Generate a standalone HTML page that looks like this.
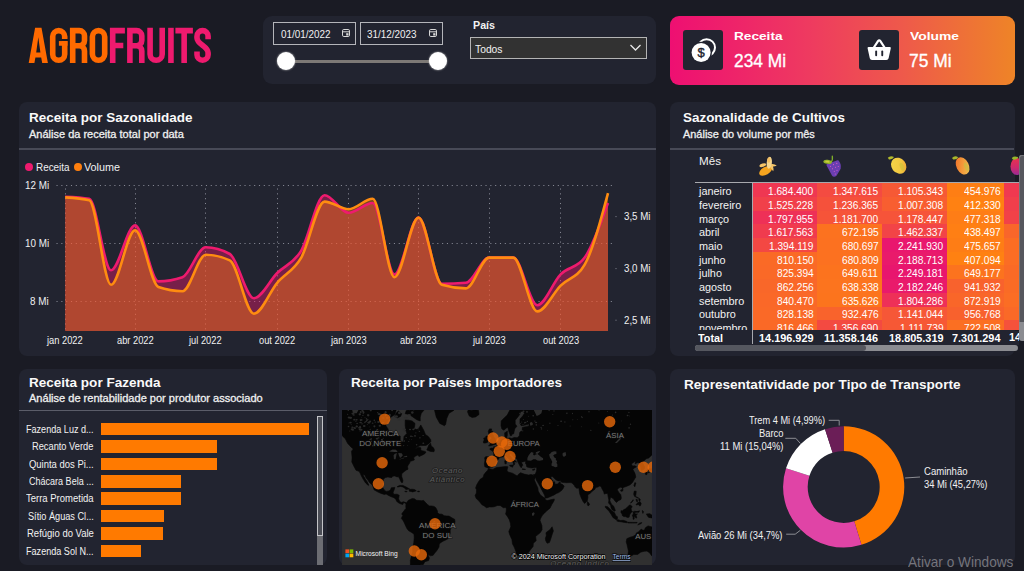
<!DOCTYPE html>
<html><head><meta charset="utf-8"><title>AgroFruits</title>
<style>
html,body{margin:0;padding:0}
body{width:1024px;height:571px;overflow:hidden;background:#1a1b24;position:relative;font-family:"Liberation Sans",sans-serif}
.b{position:absolute;display:block;box-sizing:content-box}
.t{position:absolute;white-space:nowrap;transform-origin:0 0;font-family:"Liberation Sans",sans-serif}
</style></head><body>
<div class="b" style="left:263px;top:16px;width:393px;height:68px;background:#222430;border-radius:9px;"></div>
<div class="b" style="left:18.8px;top:102px;width:637.3px;height:254px;background:#222430;border-radius:8px;"></div>
<div class="b" style="left:669.6px;top:102px;width:345px;height:254px;background:#222430;border-radius:8px;"></div>
<div class="b" style="left:18.7px;top:369px;width:308.5px;height:195.7px;background:#222430;border-radius:8px;"></div>
<div class="b" style="left:338.5px;top:369px;width:317.5px;height:195.7px;background:#222430;border-radius:8px;"></div>
<div class="b" style="left:669.6px;top:369px;width:345px;height:195.7px;background:#222430;border-radius:8px;"></div>
<div class="b" style="left:669.6px;top:16px;width:345px;height:68.5px;background:linear-gradient(90deg,#ee0f72 0%,#ee3a60 40%,#ee5a4a 68%,#ee8427 100%);border-radius:9px;"></div>
<svg class="b" style="left:0;top:0" width="230" height="80" viewBox="0 0 230 80"><g transform="translate(28.7,27.8)"><path d="M0,35.2L6.3999999999999995,0H12.8L19.2,35.2H13.488L12.488,29.6H6.712L5.712,35.2ZM7.5,24.6L9.6,9.5L11.7,24.6Z" fill="#ff6a00" fill-rule="evenodd"/></g><g transform="translate(49.9,27.8)"><path d="M14.8,11.2V8.8A6.0,6.0 0 0 0 2.8,8.8V26.400000000000006A6.0,6.0 0 0 0 14.8,26.400000000000006V13.3" fill="none" stroke="#ff6a00" stroke-width="5.6"/><path d="M9.0,15.6H17.6" fill="none" stroke="#ff6a00" stroke-width="4.7"/></g><g transform="translate(69.9,27.8)"><path d="M2.8,0V35.2M2.8,2.8H9.399999999999991A5.2,5.2 0 0 1 14.59999999999999,8.0V12.7A5.2,5.2 0 0 1 9.399999999999991,17.9H2.8M7.8999999999999915,17.9H9.399999999999991A5.2,5.2 0 0 1 14.59999999999999,23.099999999999998V35.2" fill="none" stroke="#ff6a00" stroke-width="5.6"/></g><g transform="translate(89.6,27.8)"><path d="M2.8,8.950000000000003A6.150000000000002,6.150000000000002 0 0 1 15.100000000000005,8.950000000000003V26.250000000000004A6.150000000000002,6.150000000000002 0 0 1 2.8,26.250000000000004Z" fill="none" stroke="#ff6a00" stroke-width="5.6"/></g><g transform="translate(109.9,27.8)"><path d="M2.8,0V35.2M2.8,2.8H15.0M2.8,17.7H13.4" fill="none" stroke="#ee1a6e" stroke-width="5.6"/></g><g transform="translate(127.1,27.8)"><path d="M2.8,0V35.2M2.8,2.8H9.5A5.2,5.2 0 0 1 14.7,8.0V12.7A5.2,5.2 0 0 1 9.5,17.9H2.8M8.0,17.9H9.5A5.2,5.2 0 0 1 14.7,23.099999999999998V35.2" fill="none" stroke="#ee1a6e" stroke-width="5.6"/></g><g transform="translate(147.3,27.8)"><path d="M2.8,0V26.350000000000012A6.049999999999994,6.049999999999994 0 0 0 14.899999999999988,26.350000000000012V0" fill="none" stroke="#ee1a6e" stroke-width="5.6"/></g><g transform="translate(168.2,27.8)"><path d="M2.75,0V35.2" fill="none" stroke="#ee1a6e" stroke-width="5.6"/></g><g transform="translate(175.4,27.8)"><path d="M0,2.8H17.5M8.75,0V35.2" fill="none" stroke="#ee1a6e" stroke-width="5.6"/></g><g transform="translate(194.2,27.8)"><path d="M13.900000000000016,11.4V8.350000000000009A5.550000000000008,5.550000000000008 0 0 0 2.8,8.350000000000009V10.2C2.8,16.5 13.900000000000016,18.5 13.900000000000016,25V26.849999999999998A5.550000000000008,5.550000000000008 0 0 1 2.8,26.849999999999998V23.6" fill="none" stroke="#ee1a6e" stroke-width="5.6"/></g></svg>
<div class="b" style="left:273.2px;top:22px;width:80.60000000000001px;height:20.6px;background:transparent;border:1px solid #b4b5ba;"></div>
<span class="t" style="left:280.50px;top:29.00px;font-size:10px;font-weight:400;color:#f0f0f0;line-height:11.490px;transform:scaleX(0.9888);">01/01/2022</span>
<svg class="b" style="left:341.0px;top:27.5px" width="11" height="11" viewBox="0 0 11 11"><rect x="1.5" y="1.5" width="7" height="7" rx="1.3" fill="none" stroke="#d8d8d8" stroke-width="1"/><line x1="1.5" y1="3.8" x2="8.5" y2="3.8" stroke="#d8d8d8" stroke-width="1"/><rect x="5.2" y="5.2" width="2.3" height="2.3" fill="#d8d8d8"/></svg>
<div class="b" style="left:359.7px;top:22px;width:80.99999999999999px;height:20.6px;background:transparent;border:1px solid #b4b5ba;"></div>
<span class="t" style="left:367.00px;top:29.00px;font-size:10px;font-weight:400;color:#f0f0f0;line-height:11.490px;transform:scaleX(0.9888);">31/12/2023</span>
<svg class="b" style="left:427.5px;top:27.5px" width="11" height="11" viewBox="0 0 11 11"><rect x="1.5" y="1.5" width="7" height="7" rx="1.3" fill="none" stroke="#d8d8d8" stroke-width="1"/><line x1="1.5" y1="3.8" x2="8.5" y2="3.8" stroke="#d8d8d8" stroke-width="1"/><rect x="5.2" y="5.2" width="2.3" height="2.3" fill="#d8d8d8"/></svg>
<div class="b" style="left:286px;top:59.7px;width:152px;height:3px;background:#7d7976;border-radius:1px;"></div>
<div class="b" style="left:276.9px;top:51.7px;width:18.6px;height:18.6px;background:#fff;border-radius:50%;box-shadow:0 0 1.5px 0.5px rgba(200,200,200,.55);"></div>
<div class="b" style="left:428.59999999999997px;top:51.7px;width:18.6px;height:18.6px;background:#fff;border-radius:50%;box-shadow:0 0 1.5px 0.5px rgba(200,200,200,.55);"></div>
<span class="t" style="left:472.50px;top:19.00px;font-size:11.5px;font-weight:700;color:#f2f2f2;line-height:13.213px;transform:scaleX(0.9299);">País</span>
<div class="b" style="left:470px;top:37px;width:174.6px;height:19.8px;background:#323232;border:1px solid #b4b4b4;"></div>
<span class="t" style="left:474.80px;top:43.00px;font-size:10.5px;font-weight:400;color:#f2f2f2;line-height:12.065px;transform:scaleX(0.9815);">Todos</span>
<svg class="b" style="left:628px;top:42px" width="16" height="12"><polyline points="2.5,3 7.5,8 12.5,3" fill="none" stroke="#e8e8e8" stroke-width="1.3"/></svg>
<div class="b" style="left:683px;top:30px;width:40.3px;height:40.3px;background:#222430;border-radius:3px;"></div>
<div class="b" style="left:858.7px;top:30px;width:40.3px;height:40.3px;background:#222430;border-radius:3px;"></div>
<span class="t" style="left:734.00px;top:30.00px;font-size:11.5px;font-weight:700;color:#fff;line-height:13.213px;transform:scaleX(1.1854);">Receita</span>
<span class="t" style="left:733.50px;top:50.00px;font-size:18.5px;font-weight:400;color:#fff;line-height:21.256px;transform:scaleX(0.9365);-webkit-text-stroke:.35px #fff;">234 Mi</span>
<span class="t" style="left:909.50px;top:30.00px;font-size:11.5px;font-weight:700;color:#fff;line-height:13.213px;transform:scaleX(1.2044);">Volume</span>
<span class="t" style="left:909.00px;top:50.00px;font-size:18.5px;font-weight:400;color:#fff;line-height:21.256px;transform:scaleX(0.9395);-webkit-text-stroke:.35px #fff;">75 Mi</span>
<svg class="b" style="left:683px;top:30px" width="41" height="41" viewBox="0 0 41 41">
<circle cx="23.6" cy="17.6" r="8.4" fill="none" stroke="#fff" stroke-width="2"/>
<circle cx="18.1" cy="22.5" r="10.8" fill="#222430"/>
<circle cx="18.1" cy="22.5" r="9.5" fill="#fff"/>
<text x="18.2" y="27" text-anchor="middle" font-family="Liberation Sans, sans-serif" font-weight="400" font-size="13" fill="#222430" stroke="#222430" stroke-width=".4">$</text>
</svg>
<svg class="b" style="left:858.7px;top:30px" width="41" height="41" viewBox="0 0 41 41">
<path d="M14.2 18.5 L19 11.2 Q20.2 9.6 21.4 11.2 L26.2 18.5" fill="none" stroke="#fff" stroke-width="2.2" stroke-linecap="round" stroke-linejoin="round"/>
<path d="M9.6 17 H30.8 Q32 17 31.8 18.3 L29.6 28.2 Q29.2 30 27.4 30 H13 Q11.2 30 10.8 28.2 L8.6 18.3 Q8.4 17 9.6 17 Z" fill="#fff"/>
<rect x="16.2" y="20.6" width="1.9" height="5.6" rx=".9" fill="#222430"/>
<rect x="22.3" y="20.6" width="1.9" height="5.6" rx=".9" fill="#222430"/>
</svg>
<span class="t" style="left:28.50px;top:111.00px;font-size:13px;font-weight:700;color:#fafafa;line-height:14.937px;transform:scaleX(1.0381);">Receita por Sazonalidade</span>
<span class="t" style="left:28.50px;top:129.00px;font-size:10.2px;font-weight:400;color:#f0f0f0;line-height:11.720px;transform:scaleX(1.0804);-webkit-text-stroke:.28px #f0f0f0;">Análise da receita total por data</span>
<div class="b" style="left:19px;top:148px;width:637px;height:2px;background:#484a57;"></div>
<span class="t" style="left:683.30px;top:111.00px;font-size:13px;font-weight:700;color:#fafafa;line-height:14.937px;transform:scaleX(1.0334);">Sazonalidade de Cultivos</span>
<span class="t" style="left:683.30px;top:129.00px;font-size:10.2px;font-weight:400;color:#f0f0f0;line-height:11.720px;transform:scaleX(1.0729);-webkit-text-stroke:.28px #f0f0f0;">Análise do volume por mês</span>
<div class="b" style="left:669.7px;top:148px;width:344.8px;height:2px;background:#484a57;"></div>
<span class="t" style="left:28.50px;top:376.00px;font-size:13px;font-weight:700;color:#fafafa;line-height:14.937px;transform:scaleX(1.0401);">Receita por Fazenda</span>
<span class="t" style="left:28.50px;top:393.00px;font-size:10.2px;font-weight:400;color:#f0f0f0;line-height:11.720px;transform:scaleX(1.0830);-webkit-text-stroke:.28px #f0f0f0;">Análise de rentabilidade por produtor associado</span>
<div class="b" style="left:19px;top:410.2px;width:308px;height:1px;background:#5b5d69;"></div>
<span class="t" style="left:350.70px;top:376.00px;font-size:13px;font-weight:700;color:#fafafa;line-height:14.937px;transform:scaleX(1.0430);">Receita por Países Importadores</span>
<span class="t" style="left:684.00px;top:378.00px;font-size:13px;font-weight:700;color:#fafafa;line-height:14.937px;transform:scaleX(1.0438);">Representatividade por Tipo de Transporte</span>
<svg class="b" style="left:0;top:150px" width="660" height="206" viewBox="0 150 660 206"><line x1="56.5" y1="185.5" x2="615" y2="185.5" stroke="#858793" stroke-width="1" stroke-dasharray="1.1 3.72"/><line x1="56.5" y1="243.5" x2="615" y2="243.5" stroke="#858793" stroke-width="1" stroke-dasharray="1.1 3.72"/><line x1="56.5" y1="301.5" x2="615" y2="301.5" stroke="#858793" stroke-width="1" stroke-dasharray="1.1 3.72"/><line x1="65.5" y1="188.5" x2="65.5" y2="331" stroke="#858793" stroke-width="1" stroke-dasharray="1.1 3.72"/><line x1="135.5" y1="188.5" x2="135.5" y2="331" stroke="#858793" stroke-width="1" stroke-dasharray="1.1 3.72"/><line x1="205.5" y1="188.5" x2="205.5" y2="331" stroke="#858793" stroke-width="1" stroke-dasharray="1.1 3.72"/><line x1="277.5" y1="188.5" x2="277.5" y2="331" stroke="#858793" stroke-width="1" stroke-dasharray="1.1 3.72"/><line x1="348.5" y1="188.5" x2="348.5" y2="331" stroke="#858793" stroke-width="1" stroke-dasharray="1.1 3.72"/><line x1="418.5" y1="188.5" x2="418.5" y2="331" stroke="#858793" stroke-width="1" stroke-dasharray="1.1 3.72"/><line x1="489.5" y1="188.5" x2="489.5" y2="331" stroke="#858793" stroke-width="1" stroke-dasharray="1.1 3.72"/><line x1="560.5" y1="188.5" x2="560.5" y2="331" stroke="#858793" stroke-width="1" stroke-dasharray="1.1 3.72"/><rect x="615.5" y="216.1" width="1" height="1" fill="#858793"/><rect x="615.5" y="268.1" width="1" height="1" fill="#858793"/><rect x="615.5" y="319.7" width="1" height="1" fill="#858793"/><path d="M65.20,196.80C73.22,197.13,81.25,197.47,89.27,198.80C96.52,200.00,103.77,270.20,111.02,270.20C119.04,270.20,127.06,225.40,135.09,225.40C142.85,225.40,150.62,281.40,158.38,281.40C166.41,281.40,174.43,280.00,182.46,277.20C190.22,274.49,197.99,247.30,205.75,247.30C213.78,247.30,221.80,249.53,229.83,254.00C237.85,258.47,245.87,298.20,253.90,298.20C261.66,298.20,269.43,280.82,277.19,273.00C285.22,264.92,293.24,263.97,301.27,250.60C309.03,237.66,316.80,195.20,324.56,195.20C332.59,195.20,340.61,212.80,348.64,212.80C356.66,212.80,364.68,203.00,372.71,203.00C379.96,203.00,387.20,274.40,394.45,274.40C402.48,274.40,410.50,217.60,418.52,217.60C426.29,217.60,434.06,283.70,441.82,283.70C449.85,283.70,457.87,283.40,465.89,282.80C473.66,282.22,481.42,257.60,489.19,257.60C497.21,257.60,505.24,257.60,513.26,257.60C521.29,257.60,529.31,305.20,537.34,305.20C545.10,305.20,552.87,282.28,560.63,274.40C568.66,266.25,576.68,268.80,584.70,257.60C592.47,246.76,600.23,224.88,608.00,203.00L608.0,331L65.2,331Z" fill="#ee1a6e" fill-opacity=".42"/><path d="M65.20,197.40C73.22,197.87,81.25,198.33,89.27,200.20C96.52,201.89,103.77,284.80,111.02,284.80C119.04,284.80,127.06,230.20,135.09,230.20C142.85,230.20,150.62,284.29,158.38,287.00C166.41,289.80,174.43,291.20,182.46,291.20C190.22,291.20,197.99,254.80,205.75,254.80C213.78,254.80,221.80,256.67,229.83,260.40C237.85,264.13,245.87,313.70,253.90,313.70C261.66,313.70,269.43,292.03,277.19,282.80C285.22,273.26,293.24,271.53,301.27,257.60C309.03,244.12,316.80,201.60,324.56,201.60C332.59,201.60,340.61,209.20,348.64,209.20C356.66,209.20,364.68,198.80,372.71,198.80C379.96,198.80,387.20,277.20,394.45,277.20C402.48,277.20,410.50,217.60,418.52,217.60C426.29,217.60,434.06,282.48,441.82,284.80C449.85,287.20,457.87,288.40,465.89,288.40C473.66,288.40,481.42,257.60,489.19,257.60C497.21,257.60,505.24,257.60,513.26,257.60C521.29,257.60,529.31,311.40,537.34,311.40C545.10,311.40,552.87,293.30,560.63,285.60C568.66,277.64,576.68,278.60,584.70,264.60C592.47,251.05,600.23,222.13,608.00,193.20L608.0,331L65.2,331Z" fill="#ff7f0e" fill-opacity=".42"/><path d="M65.20,196.80C73.22,197.13,81.25,197.47,89.27,198.80C96.52,200.00,103.77,270.20,111.02,270.20C119.04,270.20,127.06,225.40,135.09,225.40C142.85,225.40,150.62,281.40,158.38,281.40C166.41,281.40,174.43,280.00,182.46,277.20C190.22,274.49,197.99,247.30,205.75,247.30C213.78,247.30,221.80,249.53,229.83,254.00C237.85,258.47,245.87,298.20,253.90,298.20C261.66,298.20,269.43,280.82,277.19,273.00C285.22,264.92,293.24,263.97,301.27,250.60C309.03,237.66,316.80,195.20,324.56,195.20C332.59,195.20,340.61,212.80,348.64,212.80C356.66,212.80,364.68,203.00,372.71,203.00C379.96,203.00,387.20,274.40,394.45,274.40C402.48,274.40,410.50,217.60,418.52,217.60C426.29,217.60,434.06,283.70,441.82,283.70C449.85,283.70,457.87,283.40,465.89,282.80C473.66,282.22,481.42,257.60,489.19,257.60C497.21,257.60,505.24,257.60,513.26,257.60C521.29,257.60,529.31,305.20,537.34,305.20C545.10,305.20,552.87,282.28,560.63,274.40C568.66,266.25,576.68,268.80,584.70,257.60C592.47,246.76,600.23,224.88,608.00,203.00" fill="none" stroke="#ee1a6e" stroke-width="2.6" stroke-linejoin="round"/><path d="M65.20,197.40C73.22,197.87,81.25,198.33,89.27,200.20C96.52,201.89,103.77,284.80,111.02,284.80C119.04,284.80,127.06,230.20,135.09,230.20C142.85,230.20,150.62,284.29,158.38,287.00C166.41,289.80,174.43,291.20,182.46,291.20C190.22,291.20,197.99,254.80,205.75,254.80C213.78,254.80,221.80,256.67,229.83,260.40C237.85,264.13,245.87,313.70,253.90,313.70C261.66,313.70,269.43,292.03,277.19,282.80C285.22,273.26,293.24,271.53,301.27,257.60C309.03,244.12,316.80,201.60,324.56,201.60C332.59,201.60,340.61,209.20,348.64,209.20C356.66,209.20,364.68,198.80,372.71,198.80C379.96,198.80,387.20,277.20,394.45,277.20C402.48,277.20,410.50,217.60,418.52,217.60C426.29,217.60,434.06,282.48,441.82,284.80C449.85,287.20,457.87,288.40,465.89,288.40C473.66,288.40,481.42,257.60,489.19,257.60C497.21,257.60,505.24,257.60,513.26,257.60C521.29,257.60,529.31,311.40,537.34,311.40C545.10,311.40,552.87,293.30,560.63,285.60C568.66,277.64,576.68,278.60,584.70,264.60C592.47,251.05,600.23,222.13,608.00,193.20" fill="none" stroke="#ff8c10" stroke-width="2.6" stroke-linejoin="round"/></svg>
<div class="b" style="left:25.2px;top:162.8px;width:7.8px;height:7.8px;background:#ee1a6e;border-radius:50%;"></div>
<span class="t" style="left:35.60px;top:161.00px;font-size:11px;font-weight:400;color:#f0f0f0;line-height:12.639px;transform:scaleX(0.8982);">Receita</span>
<div class="b" style="left:73.9px;top:162.8px;width:7.8px;height:7.8px;background:#ff7f0e;border-radius:50%;"></div>
<span class="t" style="left:84.00px;top:161.00px;font-size:11px;font-weight:400;color:#f0f0f0;line-height:12.639px;transform:scaleX(0.9812);">Volume</span>
<span class="t" style="left:24.71px;top:180.00px;font-size:10px;font-weight:400;color:#f0f0f0;line-height:11.490px;transform:scaleX(0.9850);">12 Mi</span>
<span class="t" style="left:24.71px;top:238.00px;font-size:10px;font-weight:400;color:#f0f0f0;line-height:11.490px;transform:scaleX(0.9850);">10 Mi</span>
<span class="t" style="left:30.19px;top:296.00px;font-size:10px;font-weight:400;color:#f0f0f0;line-height:11.490px;transform:scaleX(0.9850);">8 Mi</span>
<span class="t" style="left:624.30px;top:211.00px;font-size:10px;font-weight:400;color:#f0f0f0;line-height:11.490px;transform:scaleX(0.9730);">3,5 Mi</span>
<span class="t" style="left:624.30px;top:263.00px;font-size:10px;font-weight:400;color:#f0f0f0;line-height:11.490px;transform:scaleX(0.9730);">3,0 Mi</span>
<span class="t" style="left:624.30px;top:315.00px;font-size:10px;font-weight:400;color:#f0f0f0;line-height:11.490px;transform:scaleX(0.9730);">2,5 Mi</span>
<span class="t" style="left:47.35px;top:335.00px;font-size:10px;font-weight:400;color:#f0f0f0;line-height:11.490px;transform:scaleX(0.9300);">jan 2022</span>
<span class="t" style="left:116.73px;top:335.00px;font-size:10px;font-weight:400;color:#f0f0f0;line-height:11.490px;transform:scaleX(0.9300);">abr 2022</span>
<span class="t" style="left:189.46px;top:335.00px;font-size:10px;font-weight:400;color:#f0f0f0;line-height:11.490px;transform:scaleX(0.9300);">jul 2022</span>
<span class="t" style="left:259.09px;top:335.00px;font-size:10px;font-weight:400;color:#f0f0f0;line-height:11.490px;transform:scaleX(0.9300);">out 2022</span>
<span class="t" style="left:330.79px;top:335.00px;font-size:10px;font-weight:400;color:#f0f0f0;line-height:11.490px;transform:scaleX(0.9300);">jan 2023</span>
<span class="t" style="left:400.16px;top:335.00px;font-size:10px;font-weight:400;color:#f0f0f0;line-height:11.490px;transform:scaleX(0.9300);">abr 2023</span>
<span class="t" style="left:472.90px;top:335.00px;font-size:10px;font-weight:400;color:#f0f0f0;line-height:11.490px;transform:scaleX(0.9300);">jul 2023</span>
<span class="t" style="left:542.53px;top:335.00px;font-size:10px;font-weight:400;color:#f0f0f0;line-height:11.490px;transform:scaleX(0.9300);">out 2023</span>
<div class="b" style="left:690px;top:150px;width:328.6px;height:180.4px;overflow:hidden"><div class="b" style="left:62.00px;top:33.20px;width:65.60px;height:14.01px;background:#ef3752"></div><span class="t" style="left:78.48px;top:35.00px;font-size:11px;font-weight:400;color:#fff;line-height:12.639px;transform:scaleX(0.9220);">1.684.400</span><div class="b" style="left:127.30px;top:33.20px;width:65.00px;height:14.01px;background:#f44b41"></div><span class="t" style="left:143.18px;top:35.00px;font-size:11px;font-weight:400;color:#fff;line-height:12.639px;transform:scaleX(0.9220);">1.347.615</span><div class="b" style="left:192.00px;top:33.20px;width:65.30px;height:14.01px;background:#f65935"></div><span class="t" style="left:208.18px;top:35.00px;font-size:11px;font-weight:400;color:#fff;line-height:12.639px;transform:scaleX(0.9220);">1.105.343</span><div class="b" style="left:257.00px;top:33.20px;width:57.60px;height:14.01px;background:#fe7e14"></div><span class="t" style="left:273.94px;top:35.00px;font-size:11px;font-weight:400;color:#fff;line-height:12.639px;transform:scaleX(0.9220);">454.976</span><div class="b" style="left:314.30px;top:33.20px;width:15px;height:14.01px;background:#f03950"></div><span class="t" style="left:8.60px;top:35.00px;font-size:11.3px;font-weight:400;color:#f2f2f2;line-height:12.984px;transform:scaleX(0.9600);">janeiro</span><div class="b" style="left:62.00px;top:46.91px;width:65.60px;height:14.01px;background:#f1404a"></div><span class="t" style="left:78.48px;top:49.00px;font-size:11px;font-weight:400;color:#fff;line-height:12.639px;transform:scaleX(0.9220);">1.525.228</span><div class="b" style="left:127.30px;top:46.91px;width:65.00px;height:14.01px;background:#f5513b"></div><span class="t" style="left:143.18px;top:49.00px;font-size:11px;font-weight:400;color:#fff;line-height:12.639px;transform:scaleX(0.9220);">1.236.365</span><div class="b" style="left:192.00px;top:46.91px;width:65.30px;height:14.01px;background:#f85e30"></div><span class="t" style="left:208.18px;top:49.00px;font-size:11px;font-weight:400;color:#fff;line-height:12.639px;transform:scaleX(0.9220);">1.007.308</span><div class="b" style="left:257.00px;top:46.91px;width:57.60px;height:14.01px;background:#ff8112"></div><span class="t" style="left:273.94px;top:49.00px;font-size:11px;font-weight:400;color:#fff;line-height:12.639px;transform:scaleX(0.9220);">412.330</span><div class="b" style="left:314.30px;top:46.91px;width:15px;height:14.01px;background:#f13f4b"></div><span class="t" style="left:8.60px;top:49.00px;font-size:11.3px;font-weight:400;color:#f2f2f2;line-height:12.984px;transform:scaleX(0.9600);">fevereiro</span><div class="b" style="left:62.00px;top:60.62px;width:65.60px;height:14.01px;background:#ee3057"></div><span class="t" style="left:78.48px;top:63.00px;font-size:11px;font-weight:400;color:#fff;line-height:12.639px;transform:scaleX(0.9220);">1.797.955</span><div class="b" style="left:127.30px;top:60.62px;width:65.00px;height:14.01px;background:#f65439"></div><span class="t" style="left:143.18px;top:63.00px;font-size:11px;font-weight:400;color:#fff;line-height:12.639px;transform:scaleX(0.9220);">1.181.700</span><div class="b" style="left:192.00px;top:60.62px;width:65.30px;height:14.01px;background:#f65439"></div><span class="t" style="left:208.18px;top:63.00px;font-size:11px;font-weight:400;color:#fff;line-height:12.639px;transform:scaleX(0.9220);">1.178.447</span><div class="b" style="left:257.00px;top:60.62px;width:57.60px;height:14.01px;background:#fe7d16"></div><span class="t" style="left:273.94px;top:63.00px;font-size:11px;font-weight:400;color:#fff;line-height:12.639px;transform:scaleX(0.9220);">477.318</span><div class="b" style="left:314.30px;top:60.62px;width:15px;height:14.01px;background:#f24248"></div><span class="t" style="left:8.60px;top:63.00px;font-size:11.3px;font-weight:400;color:#f2f2f2;line-height:12.984px;transform:scaleX(0.9600);">março</span><div class="b" style="left:62.00px;top:74.33px;width:65.60px;height:14.01px;background:#f03b4e"></div><span class="t" style="left:78.48px;top:76.00px;font-size:11px;font-weight:400;color:#fff;line-height:12.639px;transform:scaleX(0.9220);">1.617.563</span><div class="b" style="left:127.30px;top:74.33px;width:65.00px;height:14.01px;background:#fc721f"></div><span class="t" style="left:151.64px;top:76.00px;font-size:11px;font-weight:400;color:#fff;line-height:12.639px;transform:scaleX(0.9220);">672.195</span><div class="b" style="left:192.00px;top:74.33px;width:65.30px;height:14.01px;background:#f24447"></div><span class="t" style="left:208.18px;top:76.00px;font-size:11px;font-weight:400;color:#fff;line-height:12.639px;transform:scaleX(0.9220);">1.462.337</span><div class="b" style="left:257.00px;top:74.33px;width:57.60px;height:14.01px;background:#ff7f14"></div><span class="t" style="left:273.94px;top:76.00px;font-size:11px;font-weight:400;color:#fff;line-height:12.639px;transform:scaleX(0.9220);">438.497</span><div class="b" style="left:314.30px;top:74.33px;width:15px;height:14.01px;background:#f9662a"></div><span class="t" style="left:8.60px;top:76.00px;font-size:11.3px;font-weight:400;color:#f2f2f2;line-height:12.984px;transform:scaleX(0.9600);">abril</span><div class="b" style="left:62.00px;top:88.04px;width:65.60px;height:14.01px;background:#f34843"></div><span class="t" style="left:79.24px;top:90.00px;font-size:11px;font-weight:400;color:#fff;line-height:12.639px;transform:scaleX(0.9220);">1.394.119</span><div class="b" style="left:127.30px;top:88.04px;width:65.00px;height:14.01px;background:#fc7120"></div><span class="t" style="left:151.64px;top:90.00px;font-size:11px;font-weight:400;color:#fff;line-height:12.639px;transform:scaleX(0.9220);">680.697</span><div class="b" style="left:192.00px;top:88.04px;width:65.30px;height:14.01px;background:#e9176e"></div><span class="t" style="left:208.18px;top:90.00px;font-size:11px;font-weight:400;color:#fff;line-height:12.639px;transform:scaleX(0.9220);">2.241.930</span><div class="b" style="left:257.00px;top:88.04px;width:57.60px;height:14.01px;background:#fe7d15"></div><span class="t" style="left:273.94px;top:90.00px;font-size:11px;font-weight:400;color:#fff;line-height:12.639px;transform:scaleX(0.9220);">475.657</span><div class="b" style="left:314.30px;top:88.04px;width:15px;height:14.01px;background:#fb6d23"></div><span class="t" style="left:8.60px;top:90.00px;font-size:11.3px;font-weight:400;color:#f2f2f2;line-height:12.984px;transform:scaleX(0.9600);">maio</span><div class="b" style="left:62.00px;top:101.75px;width:65.60px;height:14.01px;background:#fa6a26"></div><span class="t" style="left:86.94px;top:104.00px;font-size:11px;font-weight:400;color:#fff;line-height:12.639px;transform:scaleX(0.9220);">810.150</span><div class="b" style="left:127.30px;top:101.75px;width:65.00px;height:14.01px;background:#fc7120"></div><span class="t" style="left:151.64px;top:104.00px;font-size:11px;font-weight:400;color:#fff;line-height:12.639px;transform:scaleX(0.9220);">680.809</span><div class="b" style="left:192.00px;top:101.75px;width:65.30px;height:14.01px;background:#e91a6b"></div><span class="t" style="left:208.18px;top:104.00px;font-size:11px;font-weight:400;color:#fff;line-height:12.639px;transform:scaleX(0.9220);">2.188.713</span><div class="b" style="left:257.00px;top:101.75px;width:57.60px;height:14.01px;background:#ff8112"></div><span class="t" style="left:273.94px;top:104.00px;font-size:11px;font-weight:400;color:#fff;line-height:12.639px;transform:scaleX(0.9220);">407.094</span><div class="b" style="left:314.30px;top:101.75px;width:15px;height:14.01px;background:#fb6d24"></div><span class="t" style="left:8.60px;top:104.00px;font-size:11.3px;font-weight:400;color:#f2f2f2;line-height:12.984px;transform:scaleX(0.9600);">junho</span><div class="b" style="left:62.00px;top:115.46px;width:65.60px;height:14.01px;background:#fa6927"></div><span class="t" style="left:86.94px;top:117.00px;font-size:11px;font-weight:400;color:#fff;line-height:12.639px;transform:scaleX(0.9220);">825.394</span><div class="b" style="left:127.30px;top:115.46px;width:65.00px;height:14.01px;background:#fc731e"></div><span class="t" style="left:152.39px;top:117.00px;font-size:11px;font-weight:400;color:#fff;line-height:12.639px;transform:scaleX(0.9220);">649.611</span><div class="b" style="left:192.00px;top:115.46px;width:65.30px;height:14.01px;background:#e8166e"></div><span class="t" style="left:208.18px;top:117.00px;font-size:11px;font-weight:400;color:#fff;line-height:12.639px;transform:scaleX(0.9220);">2.249.181</span><div class="b" style="left:257.00px;top:115.46px;width:57.60px;height:14.01px;background:#fc731e"></div><span class="t" style="left:273.94px;top:117.00px;font-size:11px;font-weight:400;color:#fff;line-height:12.639px;transform:scaleX(0.9220);">649.177</span><div class="b" style="left:314.30px;top:115.46px;width:15px;height:14.01px;background:#fa6a26"></div><span class="t" style="left:8.60px;top:117.00px;font-size:11.3px;font-weight:400;color:#f2f2f2;line-height:12.984px;transform:scaleX(0.9600);">julho</span><div class="b" style="left:62.00px;top:129.17px;width:65.60px;height:14.01px;background:#f96729"></div><span class="t" style="left:86.94px;top:131.00px;font-size:11px;font-weight:400;color:#fff;line-height:12.639px;transform:scaleX(0.9220);">862.256</span><div class="b" style="left:127.30px;top:129.17px;width:65.00px;height:14.01px;background:#fc741e"></div><span class="t" style="left:151.64px;top:131.00px;font-size:11px;font-weight:400;color:#fff;line-height:12.639px;transform:scaleX(0.9220);">638.338</span><div class="b" style="left:192.00px;top:129.17px;width:65.30px;height:14.01px;background:#e91a6b"></div><span class="t" style="left:208.18px;top:131.00px;font-size:11px;font-weight:400;color:#fff;line-height:12.639px;transform:scaleX(0.9220);">2.182.246</span><div class="b" style="left:257.00px;top:129.17px;width:57.60px;height:14.01px;background:#f8622d"></div><span class="t" style="left:273.94px;top:131.00px;font-size:11px;font-weight:400;color:#fff;line-height:12.639px;transform:scaleX(0.9220);">941.932</span><div class="b" style="left:314.30px;top:129.17px;width:15px;height:14.01px;background:#fa6b25"></div><span class="t" style="left:8.60px;top:131.00px;font-size:11.3px;font-weight:400;color:#f2f2f2;line-height:12.984px;transform:scaleX(0.9600);">agosto</span><div class="b" style="left:62.00px;top:142.88px;width:65.60px;height:14.01px;background:#fa6828"></div><span class="t" style="left:86.94px;top:145.00px;font-size:11px;font-weight:400;color:#fff;line-height:12.639px;transform:scaleX(0.9220);">840.470</span><div class="b" style="left:127.30px;top:142.88px;width:65.00px;height:14.01px;background:#fc741d"></div><span class="t" style="left:151.64px;top:145.00px;font-size:11px;font-weight:400;color:#fff;line-height:12.639px;transform:scaleX(0.9220);">635.626</span><div class="b" style="left:192.00px;top:142.88px;width:65.30px;height:14.01px;background:#ee3058"></div><span class="t" style="left:208.18px;top:145.00px;font-size:11px;font-weight:400;color:#fff;line-height:12.639px;transform:scaleX(0.9220);">1.804.286</span><div class="b" style="left:257.00px;top:142.88px;width:57.60px;height:14.01px;background:#f96629"></div><span class="t" style="left:273.94px;top:145.00px;font-size:11px;font-weight:400;color:#fff;line-height:12.639px;transform:scaleX(0.9220);">872.919</span><div class="b" style="left:314.30px;top:142.88px;width:15px;height:14.01px;background:#fb6d24"></div><span class="t" style="left:8.60px;top:145.00px;font-size:11.3px;font-weight:400;color:#f2f2f2;line-height:12.984px;transform:scaleX(0.9600);">setembro</span><div class="b" style="left:62.00px;top:156.59px;width:65.60px;height:14.01px;background:#fa6927"></div><span class="t" style="left:86.94px;top:158.00px;font-size:11px;font-weight:400;color:#fff;line-height:12.639px;transform:scaleX(0.9220);">828.138</span><div class="b" style="left:127.30px;top:156.59px;width:65.00px;height:14.01px;background:#f9632c"></div><span class="t" style="left:151.64px;top:158.00px;font-size:11px;font-weight:400;color:#fff;line-height:12.639px;transform:scaleX(0.9220);">932.476</span><div class="b" style="left:192.00px;top:156.59px;width:65.30px;height:14.01px;background:#f65737"></div><span class="t" style="left:208.18px;top:158.00px;font-size:11px;font-weight:400;color:#fff;line-height:12.639px;transform:scaleX(0.9220);">1.141.044</span><div class="b" style="left:257.00px;top:156.59px;width:57.60px;height:14.01px;background:#f8612d"></div><span class="t" style="left:273.94px;top:158.00px;font-size:11px;font-weight:400;color:#fff;line-height:12.639px;transform:scaleX(0.9220);">956.768</span><div class="b" style="left:314.30px;top:156.59px;width:15px;height:14.01px;background:#fa6927"></div><span class="t" style="left:8.60px;top:158.00px;font-size:11.3px;font-weight:400;color:#f2f2f2;line-height:12.984px;transform:scaleX(0.9600);">outubro</span><div class="b" style="left:62.00px;top:170.30px;width:65.60px;height:14.01px;background:#fa6926"></div><span class="t" style="left:86.94px;top:172.00px;font-size:11px;font-weight:400;color:#fff;line-height:12.639px;transform:scaleX(0.9220);">816.466</span><div class="b" style="left:127.30px;top:170.30px;width:65.00px;height:14.01px;background:#f34a41"></div><span class="t" style="left:143.18px;top:172.00px;font-size:11px;font-weight:400;color:#fff;line-height:12.639px;transform:scaleX(0.9220);">1.356.690</span><div class="b" style="left:192.00px;top:170.30px;width:65.30px;height:14.01px;background:#f65835"></div><span class="t" style="left:209.69px;top:172.00px;font-size:11px;font-weight:400;color:#fff;line-height:12.639px;transform:scaleX(0.9220);">1.111.739</span><div class="b" style="left:257.00px;top:170.30px;width:57.60px;height:14.01px;background:#fb6f22"></div><span class="t" style="left:273.94px;top:172.00px;font-size:11px;font-weight:400;color:#fff;line-height:12.639px;transform:scaleX(0.9220);">722.508</span><div class="b" style="left:314.30px;top:170.30px;width:15px;height:14.01px;background:#f5523b"></div><span class="t" style="left:8.60px;top:172.00px;font-size:11.3px;font-weight:400;color:#f2f2f2;line-height:12.984px;transform:scaleX(0.9600);">novembro</span></div>
<span class="t" style="left:698.80px;top:155.00px;font-size:11.3px;font-weight:400;color:#f2f2f2;line-height:12.984px;transform:scaleX(1.0306);">Mês</span>
<div class="b" style="left:694.5px;top:181.9px;width:324.1px;height:1px;background:#a8a9ae;"></div>
<div class="b" style="left:751.5px;top:183px;width:1px;height:161px;background:#a8a9ae;"></div>
<div class="b" style="left:690px;top:330.6px;width:61.5px;height:14px;background:#222430;"></div>
<div class="b" style="left:752.5px;top:330.6px;width:266px;height:14px;background:#222430;"></div>
<span class="t" style="left:698.40px;top:332.00px;font-size:11.3px;font-weight:700;color:#fff;line-height:12.984px;transform:scaleX(0.9560);">Total</span>
<span class="t" style="left:759.13px;top:332.00px;font-size:11.3px;font-weight:700;color:#fff;line-height:12.984px;transform:scaleX(0.9650);">14.196.929</span>
<span class="t" style="left:824.43px;top:332.00px;font-size:11.3px;font-weight:700;color:#fff;line-height:12.984px;transform:scaleX(0.9650);">11.358.146</span>
<span class="t" style="left:888.83px;top:332.00px;font-size:11.3px;font-weight:700;color:#fff;line-height:12.984px;transform:scaleX(0.9650);">18.805.319</span>
<span class="t" style="left:952.20px;top:332.00px;font-size:11.3px;font-weight:700;color:#fff;line-height:12.984px;transform:scaleX(0.9650);">7.301.294</span>
<div class="b" style="left:1004.3px;top:330.4px;width:14.3px;height:14px;overflow:hidden">
<span class="t" style="left:4.50px;top:1.00px;font-size:11.3px;font-weight:700;color:#fff;line-height:12.984px;transform:scaleX(0.9650);">14.000.000</span>
</div>
<div class="b" style="left:695px;top:344.7px;width:323px;height:6px;background:#8b8c91;border-radius:3px;"></div>
<div class="b" style="left:695px;top:344.7px;width:171px;height:6px;background:#55575f;border-radius:3px;"></div>
<div class="b" style="left:1018.6px;top:154.6px;width:6px;height:186px;background:#8b8c91;border-radius:3px 0 0 3px;"></div>
<div class="b" style="left:1018.6px;top:154.6px;width:5.4px;height:166px;background:#56575d;border-radius:3px 0 0 0;border-left:1px solid #74757a;border-top:1px solid #74757a;"></div>
<svg class="b" style="left:752px;top:152px" width="267" height="30" viewBox="752 152 267 30">
<defs>
<linearGradient id="lem" x1="0" y1="0" x2="1" y2="1"><stop offset="0" stop-color="#f7d84a"/><stop offset=".6" stop-color="#f2c840"/><stop offset="1" stop-color="#ef9a32"/></linearGradient>
<linearGradient id="man" x1="0" y1="0" x2="1" y2="1"><stop offset="0" stop-color="#f26a28"/><stop offset=".5" stop-color="#f39a3a"/><stop offset="1" stop-color="#ecc85a"/></linearGradient>
<linearGradient id="pit" x1="0" y1="0" x2="0" y2="1"><stop offset="0" stop-color="#e8324e"/><stop offset=".55" stop-color="#cf2a6c"/><stop offset="1" stop-color="#9a2a94"/></linearGradient>
</defs>
<!-- banana -->
<ellipse cx="765.600" cy="170.900" rx="7" ry="3.900" transform="rotate(-30 765.6 170.9)" fill="#f5a41f"/>
<ellipse cx="762.8" cy="165.200" rx="3.500" ry="1.700" transform="rotate(-18 762.8 165.2)" fill="#f6c568"/>
<path d="M770.5 164.200 q3.500 -.8 6.300 1.300 q-2.300 1.200 -3.800 1 q.9 2.400 .3 4.700 q-2.300 -1.600 -3.200 -4.400 z" fill="#f6c568"/>
<ellipse cx="769.300" cy="162.700" rx="2.600" ry="6" transform="rotate(6 769.3 162.7)" fill="#f6d68e"/>
<ellipse cx="768.800" cy="160" rx="1.600" ry="2.800" transform="rotate(6 768.8 160)" fill="#f3be62"/>
<!-- grapes -->
<path d="M827.5 165 L837.8 161.200 Q840.500 164.500 839.700 168.500 L835.800 175 Q834 176.600 832.700 174.800 Z" fill="#6a3fb2" stroke="#6a3fb2" stroke-width="2" stroke-linejoin="round"/>
<g fill="#e25cc4"><circle cx="830.500" cy="166.200" r=".55"/><circle cx="833.500" cy="164.600" r=".55"/><circle cx="836.800" cy="163.400" r=".55"/><circle cx="832.5" cy="168.800" r=".55"/><circle cx="835.500" cy="167.300" r=".55"/><circle cx="838.300" cy="166.500" r=".55"/><circle cx="834.300" cy="171.300" r=".55"/><circle cx="837" cy="170.200" r=".55"/><circle cx="835.300" cy="174" r=".55"/></g>
<path d="M830.800 162.200 Q833 160.500 832.300 156.200" fill="none" stroke="#7fae2a" stroke-width="1.300" stroke-linecap="round"/>
<ellipse cx="827.600" cy="161.800" rx="4.300" ry="2" transform="rotate(8 827.6 161.8)" fill="#93b42a"/>
<ellipse cx="827.400" cy="161.700" rx="2.200" ry=".9" transform="rotate(8 827.4 161.7)" fill="#cdc93a"/>
<!-- lemon -->
<ellipse cx="898.700" cy="165.700" rx="7.200" ry="8.500" transform="rotate(-38 898.7 165.7)" fill="url(#lem)"/>
<ellipse cx="902" cy="166.800" rx="2" ry="4.300" transform="rotate(-20 902 166.8)" fill="#c9c23a" fill-opacity=".55"/>
<path d="M887.800 157.800 q2.800 -2.900 6.200 -.7 q-1.500 2.800 -5 2.300 z" fill="#b2bb2c"/>
<!-- mango -->
<ellipse cx="962.600" cy="165.900" rx="6.200" ry="9.200" transform="rotate(-27 962.6 165.9)" fill="url(#man)"/>
<ellipse cx="966.300" cy="166.800" rx="1.800" ry="4.500" transform="rotate(-22 966.3 166.8)" fill="#c4c040" fill-opacity=".6"/>
<path d="M952 157.900 q2.800 -2.900 6.200 -.7 q-1.500 2.800 -5 2.300 z" fill="#a9b82a"/>
<!-- 5th -->
<ellipse cx="1016.800" cy="166.500" rx="6.300" ry="8.600" fill="url(#pit)"/>
<path d="M1011.800 157.900 q3 -2.700 6.500 -.4 q-2 2.800 -5.500 2 z" fill="#9ab82a"/>
</svg>
<div class="b" style="left:1018.6px;top:150px;width:6px;height:4.6px;background:#1a1b24;"></div>
<div class="b" style="left:100.5px;top:422.9px;width:208.5px;height:12.5px;background:#ff7a00;"></div>
<span class="t" style="left:26.00px;top:424.00px;font-size:10px;font-weight:400;color:#f2f2f2;line-height:11.490px;transform:scaleX(0.9073);">Fazenda Luz d...</span>
<div class="b" style="left:100.5px;top:440.28px;width:116.5px;height:12.5px;background:#ff7a00;"></div>
<span class="t" style="left:32.30px;top:441.00px;font-size:10px;font-weight:400;color:#f2f2f2;line-height:11.490px;transform:scaleX(0.9264);">Recanto Verde</span>
<div class="b" style="left:100.5px;top:457.66px;width:116.5px;height:12.5px;background:#ff7a00;"></div>
<span class="t" style="left:28.90px;top:459.00px;font-size:10px;font-weight:400;color:#f2f2f2;line-height:11.490px;transform:scaleX(0.9461);">Quinta dos Pi...</span>
<div class="b" style="left:100.5px;top:475.04px;width:80.2px;height:12.5px;background:#ff7a00;"></div>
<span class="t" style="left:28.90px;top:476.00px;font-size:10px;font-weight:400;color:#f2f2f2;line-height:11.490px;transform:scaleX(0.9022);">Chácara Bela ...</span>
<div class="b" style="left:100.5px;top:492.42px;width:80.2px;height:12.5px;background:#ff7a00;"></div>
<span class="t" style="left:26.00px;top:493.00px;font-size:10px;font-weight:400;color:#f2f2f2;line-height:11.490px;transform:scaleX(0.9501);">Terra Prometida</span>
<div class="b" style="left:100.5px;top:509.8px;width:63.2px;height:12.5px;background:#ff7a00;"></div>
<span class="t" style="left:27.80px;top:511.00px;font-size:10px;font-weight:400;color:#f2f2f2;line-height:11.490px;transform:scaleX(0.9175);">Sítio Águas Cl...</span>
<div class="b" style="left:100.5px;top:527.18px;width:62.1px;height:12.5px;background:#ff7a00;"></div>
<span class="t" style="left:26.70px;top:528.00px;font-size:10px;font-weight:400;color:#f2f2f2;line-height:11.490px;transform:scaleX(0.9498);">Refúgio do Vale</span>
<div class="b" style="left:100.5px;top:544.56px;width:40.7px;height:12.5px;background:#ff7a00;"></div>
<span class="t" style="left:26.00px;top:546.00px;font-size:10px;font-weight:400;color:#f2f2f2;line-height:11.490px;transform:scaleX(0.9074);">Fazenda Sol N...</span>
<div class="b" style="left:316.5px;top:416px;width:6.3px;height:148.5px;background:#6c6d73;"></div>
<div class="b" style="left:316.5px;top:416px;width:4.3px;height:117.5px;background:#4b4d56;border:1px solid #c4c4c8;"></div>
<svg class="b" style="left:342px;top:410px" width="310" height="155.4" viewBox="342 410 310 155.4"><rect x="342" y="410" width="310" height="155.4" fill="#303030"/><path d="M333.6,391.0L333.6,425.7L338.3,429.1L340.6,432.4L342.9,436.5L345.2,438.5L347.5,443.2L350.9,446.9L353.3,449.0L351.5,451.2L352.1,457.7L351.8,461.9L353.8,466.1L356.0,470.3L359.0,471.3L360.1,473.1L361.3,475.8L363.1,479.1L365.6,483.0L368.3,485.5L368.8,485.1L367.1,481.7L365.0,478.5L362.8,474.5L364.8,474.9L366.0,477.8L367.7,479.8L369.4,482.4L372.3,485.1L373.5,488.0L374.0,489.8L377.5,491.8L381.0,493.4L384.4,494.5L386.1,493.9L388.5,495.5L391.3,496.8L394.0,497.7L396.0,499.4L396.5,501.2L398.8,503.0L401.1,504.1L402.9,504.4L403.5,502.6L405.2,503.0L406.0,503.8L406.3,502.8L403.5,501.8L401.1,502.4L399.4,501.0L398.6,498.8L399.2,495.3L397.1,494.2L393.6,494.3L393.1,492.3L394.2,489.8L394.8,487.4L391.3,487.8L390.5,489.8L389.0,490.9L386.1,491.4L384.4,490.2L382.7,487.4L382.5,484.3L383.0,481.7L383.3,479.1L385.6,477.5L387.9,476.9L390.2,477.4L391.9,477.5L392.5,476.2L394.8,475.9L397.1,476.9L398.3,476.5L399.8,479.1L400.6,481.1L401.7,482.7L402.6,482.4L402.9,480.4L401.7,476.5L401.7,473.8L404.0,471.7L406.3,470.1L408.0,469.2L407.5,466.8L408.1,465.3L409.8,462.8L409.8,461.4L412.1,460.8L414.4,459.9L413.6,457.7L415.6,456.1L417.9,454.9L419.0,456.6L422.5,455.0L424.8,453.7L426.0,452.0L424.2,451.2L420.8,450.4L420.8,447.8L417.9,447.2L415.0,449.5L416.7,447.2L420.2,445.6L426.0,445.4L429.4,443.2L430.9,441.4L430.6,439.4L428.3,436.5L425.4,434.4L423.7,430.2L420.8,425.0L419.0,428.0L416.7,429.6L414.4,428.0L415.0,423.4L412.1,421.0L408.6,420.2L405.2,420.0L405.2,425.7L405.8,430.2L406.9,433.4L404.0,436.5L403.5,441.4L401.7,442.3L400.2,440.4L400.2,436.1L397.1,435.5L393.6,433.4L389.0,432.4L387.9,428.7L385.8,425.7L387.9,421.0L390.8,417.2L394.8,414.5L396.0,410.4L397.1,404.5L397.1,391.0ZM426.8,450.0L430.6,451.5L434.0,451.7L434.4,450.0L433.5,447.8L431.2,446.0L430.6,443.2L428.8,445.1L427.7,447.8ZM420.2,421.0L416.7,419.7L412.1,416.4L409.2,414.5L405.2,413.7L406.3,410.4L410.4,409.0L409.8,404.5L405.2,398.1L402.9,391.0L416.7,391.0L417.9,401.4L423.7,407.5L423.7,410.4L421.3,413.2L420.2,417.2ZM394.8,416.4L397.1,418.0L400.6,416.4L401.7,413.7L398.3,411.0L396.0,413.2ZM444.4,425.7L439.8,423.4L436.3,417.2L434.6,410.4L432.9,404.5L431.7,391.0L472.1,391.0L469.8,398.1L465.2,402.9L458.3,404.5L453.7,410.4L449.0,413.2L446.7,418.5L445.6,424.6ZM467.5,411.8L469.2,415.9L472.1,417.4L475.6,416.9L479.0,414.5L478.5,410.4L475.6,409.6L471.0,410.4L468.7,409.0ZM397.1,486.8L399.4,485.5L402.9,485.4L406.3,487.1L408.6,488.4L409.6,489.0L405.8,489.4L405.2,488.4L402.9,487.0L400.6,486.4L398.3,486.9ZM409.3,489.5L412.1,489.2L414.4,489.5L416.3,490.8L414.4,491.4L412.6,491.9L411.0,491.4L409.3,491.2ZM404.8,491.2L407.1,491.4L406.9,491.9L405.0,491.7ZM417.7,491.1L419.5,491.2L419.3,491.8L417.7,491.7ZM406.0,503.8L406.6,502.7L408.1,500.5L409.5,499.8L412.1,498.6L414.4,498.8L416.4,500.3L419.0,500.5L421.3,500.7L423.7,500.4L424.8,501.8L426.0,503.1L427.7,504.7L429.4,505.9L431.7,506.0L434.0,506.4L435.8,507.7L437.5,511.1L437.5,512.8L439.2,514.0L442.1,514.2L444.1,515.7L446.7,516.0L449.0,516.1L451.3,517.4L453.1,518.6L454.6,519.2L455.0,521.5L454.6,523.8L452.5,526.2L450.8,527.9L450.2,530.3L450.2,533.3L449.3,535.8L447.9,538.8L445.6,540.1L443.3,541.1L441.0,542.4L439.2,543.9L439.0,547.1L436.9,550.5L434.6,553.2L433.1,555.3L430.6,555.8L427.8,554.6L429.4,558.1L428.6,560.6L424.8,561.7L423.3,564.5L420.2,564.8L421.3,567.4L419.6,571.1L417.3,573.6L419.0,576.1L415.6,581.4L416.2,585.2L413.3,587.1L409.8,583.3L408.1,576.1L409.2,569.5L410.4,565.5L410.4,560.3L411.5,556.0L412.7,551.8L412.7,547.8L413.8,542.6L414.2,537.6L414.0,534.3L412.1,532.7L408.6,530.7L406.9,528.5L405.8,526.2L404.0,522.3L402.9,520.3L401.4,518.6L402.0,516.8L402.9,515.7L401.7,514.0L402.9,512.2L404.0,511.1L404.6,509.9L406.0,508.4L405.8,506.4ZM488.4,468.5L492.9,469.4L496.4,467.5L501.0,467.1L505.6,466.5L507.9,466.8L507.0,470.3L507.9,472.0L512.5,473.2L517.1,475.9L518.3,474.5L520.6,472.7L524.0,474.1L528.7,475.1L531.0,474.5L532.7,474.9L534.7,474.7L532.8,476.5L533.9,479.1L536.2,484.3L537.9,488.0L538.2,491.1L540.2,494.7L543.1,497.1L545.2,498.3L545.1,499.4L547.1,500.6L550.6,499.8L554.3,499.0L554.1,500.7L551.7,504.7L550.0,508.2L547.1,510.5L544.2,513.4L542.5,515.1L540.8,518.0L540.0,520.3L540.8,522.6L541.9,525.6L542.1,529.7L540.2,532.7L537.3,535.1L535.6,536.4L536.2,540.7L533.3,543.2L533.1,546.5L531.0,549.1L528.1,552.9L525.2,554.4L520.6,554.8L518.3,555.7L516.4,554.8L516.0,551.8L514.2,547.1L512.5,543.9L511.9,539.5L509.6,534.5L508.8,531.5L510.8,526.8L510.4,523.2L509.3,519.7L507.9,517.2L505.6,514.0L506.2,511.6L506.4,508.8L505.4,507.6L503.3,507.7L501.5,506.4L500.2,505.5L497.5,505.5L494.0,506.8L491.7,507.0L489.4,506.9L486.5,507.7L484.2,505.9L481.9,504.7L480.2,502.6L478.5,500.6L476.2,498.5L475.1,495.6L476.4,492.9L476.5,489.8L475.6,488.0L476.7,484.9L478.5,481.7L480.4,479.1L483.1,477.4L484.0,474.5L486.0,471.9L487.7,470.3ZM552.1,526.8L553.4,530.9L552.3,533.9L550.4,540.1L549.4,542.6L547.1,543.2L545.7,540.7L545.4,538.2L546.3,535.8L546.0,532.7L547.7,531.3L550.0,529.7L551.2,527.9ZM484.8,466.8L488.7,468.2L490.6,467.2L492.9,467.1L494.6,464.6L495.4,462.4L496.4,460.8L498.9,459.0L499.2,457.3L501.0,457.3L503.3,456.8L505.4,455.5L507.1,456.9L508.5,458.8L510.2,460.5L511.9,461.4L513.3,462.4L513.7,464.6L513.3,465.3L514.2,464.9L514.8,463.1L514.2,462.4L514.8,461.6L516.5,462.2L516.0,461.3L513.7,459.6L512.5,459.3L511.0,456.9L509.5,455.7L509.4,454.0L511.0,453.5L511.7,454.2L512.7,455.8L514.8,457.7L517.1,459.3L517.7,461.6L518.9,463.9L519.8,465.8L520.9,467.5L521.7,467.4L522.0,465.6L522.9,465.3L521.7,463.1L521.5,461.8L522.9,461.9L525.2,461.1L525.6,462.2L525.4,463.3L526.4,464.7L526.7,466.8L527.9,467.2L530.4,467.8L532.1,467.9L534.4,467.5L536.7,467.4L536.7,469.6L536.3,471.7L535.4,473.8L534.7,474.7L533.3,475.0L532.7,476.5L534.4,479.4L535.6,477.1L536.2,479.8L538.1,483.0L540.2,486.8L541.4,489.2L543.1,492.3L544.6,495.3L545.3,498.0L547.1,497.9L550.6,496.5L554.1,494.9L556.4,493.4L558.7,492.6L561.6,490.5L563.1,488.6L564.2,486.1L562.7,484.6L560.4,483.6L560.2,481.5L559.2,482.4L557.5,484.0L555.0,484.3L554.6,481.7L553.5,482.4L552.9,480.8L551.5,479.1L550.6,476.7L552.3,476.5L553.8,477.8L555.8,479.8L558.1,480.9L560.4,480.4L561.6,482.2L564.4,482.6L566.7,482.7L570.2,482.6L572.2,483.0L573.1,484.3L574.2,485.1L574.8,486.4L576.6,488.3L578.9,488.0L579.2,490.5L579.8,494.1L581.2,497.7L582.9,501.2L584.6,503.5L585.8,502.4L587.3,500.8L587.9,497.7L587.8,494.7L590.1,493.5L592.1,491.3L595.0,489.2L595.6,487.4L597.9,487.0L599.6,486.1L601.1,486.4L601.9,488.6L603.7,491.7L604.3,494.1L606.0,493.5L607.7,493.5L608.1,496.5L608.9,500.0L608.6,503.0L610.6,505.3L611.2,508.2L612.3,509.9L614.6,511.2L615.4,510.5L614.5,508.2L613.5,505.9L611.8,504.7L610.6,502.4L609.8,500.6L610.6,497.3L611.8,497.7L613.5,498.8L614.6,500.6L616.4,502.4L618.4,500.7L621.0,499.4L621.3,497.7L620.8,494.7L618.7,492.3L617.3,489.8L618.4,488.3L620.4,487.3L622.1,487.6L622.6,488.9L623.3,487.4L626.2,486.5L627.9,485.8L630.2,484.8L632.5,482.6L633.7,480.4L635.8,477.1L635.4,475.1L634.8,473.1L633.7,471.0L632.9,469.4L634.3,467.9L636.6,466.8L634.8,465.8L632.5,466.1L631.4,463.9L633.1,462.7L635.4,461.1L635.2,463.9L637.1,462.8L638.9,462.4L639.5,464.3L640.6,466.8L641.2,470.3L642.7,469.9L644.4,468.9L644.6,466.8L643.4,464.4L642.3,462.7L644.9,460.1L646.0,458.8L648.7,458.0L651.6,455.3L654.5,451.2L657.3,446.0L656.8,440.4L654.5,438.5L651.6,436.9L653.9,433.4L656.8,429.1L660.2,427.3L660.2,391.0L513.7,391.0L511.4,406.0L509.6,410.4L507.3,415.1L504.4,417.7L501.2,421.0L501.0,425.7L501.9,428.9L503.9,430.2L505.6,428.7L507.3,427.3L508.1,428.4L508.8,431.3L510.0,434.4L510.2,435.7L511.7,435.5L511.9,434.2L513.7,433.8L514.2,431.3L514.8,428.7L516.9,426.2L515.2,423.9L515.2,420.2L517.7,417.2L519.7,414.5L520.6,411.5L523.5,411.3L524.4,413.5L522.3,416.4L520.0,419.0L520.0,423.4L521.2,425.7L524.0,425.3L526.9,424.6L529.2,425.7L527.5,426.6L524.6,426.9L522.3,427.5L522.3,430.2L523.4,429.8L523.1,431.9L521.2,431.1L519.7,432.4L519.4,435.5L518.3,436.9L517.1,437.7L514.2,437.5L511.7,438.5L509.6,437.9L507.9,438.5L506.7,437.5L507.3,435.5L507.3,432.4L507.3,430.9L506.2,432.1L504.7,432.8L504.7,435.5L505.2,438.1L504.8,439.1L503.3,439.4L501.0,440.0L500.0,442.3L499.0,443.6L497.3,444.3L496.9,445.8L495.4,446.9L493.8,446.7L493.4,448.3L491.7,448.1L489.8,448.8L490.2,449.8L492.3,450.7L493.7,452.9L493.8,455.3L493.1,457.1L490.6,456.9L488.3,456.8L486.0,456.6L484.6,457.7L485.0,460.1L484.4,463.9ZM488.6,446.0L491.2,445.6L494.0,444.7L496.7,444.0L496.9,441.0L495.5,440.4L495.0,438.5L493.5,436.5L492.9,434.4L491.7,434.4L492.9,431.3L491.2,430.9L491.7,428.9L489.4,428.9L488.3,431.3L488.9,434.4L489.4,436.5L491.2,436.7L491.7,438.9L490.0,439.8L490.4,441.7L489.2,442.7L491.2,443.4L490.0,444.2ZM483.7,443.1L486.0,442.9L488.0,441.9L488.3,439.4L488.7,437.3L487.7,436.1L486.0,436.1L485.4,437.7L483.7,438.1L484.2,440.0L483.3,441.9ZM509.6,465.3L513.1,465.0L512.7,467.2L510.0,466.1ZM504.7,460.8L506.3,460.8L506.3,463.6L505.0,463.9ZM505.2,457.9L506.2,457.9L506.0,460.1L505.4,459.9ZM522.4,468.8L525.4,469.2L525.4,469.6L522.4,469.4ZM532.5,469.6L535.0,468.8L534.4,470.1L532.7,470.2ZM587.3,501.6L588.9,503.0L589.6,504.7L588.1,505.9L587.3,504.5ZM646.4,470.8L648.1,469.1L651.6,468.8L652.7,467.1L653.6,466.1L655.6,465.3L656.8,462.4L658.5,460.8L658.5,463.9L657.9,466.1L657.7,468.5L656.4,469.4L655.0,470.1L653.3,470.2L651.6,471.7L651.0,470.3L648.7,470.6ZM645.0,472.4L645.8,474.7L647.0,474.5L647.3,471.7L646.1,471.2ZM648.1,472.4L650.4,470.6L650.4,471.6L648.7,472.7ZM634.8,482.7L635.9,483.0L634.8,486.8L633.9,485.5ZM620.6,490.1L623.1,489.2L622.7,491.1L621.0,491.3ZM634.3,491.1L636.2,491.2L636.0,494.1L635.4,496.5L638.3,497.7L638.3,498.3L636.0,497.1L634.4,496.2L633.7,494.1ZM636.0,504.7L637.7,502.8L640.0,501.6L641.2,503.5L640.6,505.5L639.8,506.1L638.3,504.5L636.6,504.9ZM638.9,498.3L640.3,499.4L639.7,501.2L638.9,500.6ZM636.0,499.2L637.4,499.7L637.4,502.1L636.6,501.4ZM630.6,503.0L633.1,499.7L633.3,500.6L631.0,503.2ZM605.2,506.3L607.7,506.8L610.9,509.9L614.6,512.8L615.8,515.7L617.5,516.8L617.3,519.5L615.8,519.5L612.9,517.4L611.2,514.5L608.9,511.1L607.1,509.3L605.4,507.4ZM616.6,520.7L618.1,519.7L620.4,520.5L623.3,520.3L625.4,520.9L627.3,521.8L627.2,522.8L624.4,522.4L621.0,521.8L618.1,521.4ZM621.0,510.7L622.7,510.8L623.9,509.6L625.6,508.8L627.3,507.3L629.6,504.9L630.8,505.3L632.3,506.7L631.1,508.2L631.4,510.5L632.5,511.6L630.8,512.8L629.6,515.1L629.1,517.2L627.3,517.4L625.6,516.6L623.9,516.6L622.4,515.7L622.1,514.0L621.0,512.5ZM633.1,511.9L634.6,511.3L637.1,511.6L639.5,510.8L638.9,512.2L636.0,512.2L634.3,512.8L635.4,514.0L637.5,514.0L636.0,515.1L636.9,517.4L636.0,518.3L634.8,516.3L634.3,516.5L634.1,519.2L633.1,519.2L633.1,516.8L632.3,516.0L633.4,513.4ZM627.9,522.3L632.5,522.4L637.1,522.4L637.1,523.0L632.5,523.1L627.9,523.0ZM637.7,524.8L639.5,523.2L641.8,522.5L641.2,523.6L638.9,524.6ZM646.4,514.0L649.8,513.7L652.1,515.3L656.8,515.7L656.8,522.1L654.5,520.9L652.1,518.0L648.7,517.4L647.5,516.0ZM642.3,510.5L643.5,511.6L642.9,513.4L642.5,511.9ZM626.8,538.8L626.2,542.0L627.0,544.5L627.7,547.8L628.5,551.1L627.9,555.0L630.8,556.0L633.7,554.6L637.7,554.4L640.6,552.2L644.1,551.3L647.0,551.1L649.8,552.9L651.6,555.7L656.8,557.4L656.8,533.3L653.3,531.5L651.6,530.3L652.1,528.5L653.1,527.0L651.0,526.8L648.1,525.9L646.4,527.0L645.2,527.9L644.6,530.1L642.9,530.3L641.2,529.1L639.5,530.9L638.3,531.9L636.3,533.0L636.0,534.5L633.1,536.4L630.2,537.2L627.9,538.2Z" fill="#050505" stroke="#050505" stroke-width=".6" stroke-linejoin="round"/><path d="M527.5,460.5L528.7,460.5L531.0,460.7L533.3,459.3L535.6,459.3L537.3,460.4L539.6,460.8L543.1,460.1L543.1,458.2L540.8,456.8L539.1,455.3L537.9,454.2L537.3,454.0L535.8,454.5L534.1,455.5L532.8,454.0L533.9,452.9L531.6,451.9L530.4,452.9L529.5,454.2L528.4,455.7L527.5,457.7L527.3,459.3ZM535.6,453.5L537.3,453.9L539.1,452.5L540.2,450.9L538.5,451.2L535.9,452.2ZM551.7,452.0L554.1,451.2L556.4,451.5L556.4,454.0L554.3,454.5L553.2,455.5L554.4,457.4L556.0,458.5L555.8,460.1L557.2,461.1L556.4,463.1L557.3,464.1L557.4,466.8L555.2,467.2L553.2,466.3L551.7,465.9L551.5,463.9L552.3,461.9L551.2,459.6L550.0,457.7L549.4,455.7L549.1,454.5L550.4,453.4ZM562.7,452.9L565.6,452.0L566.2,455.3L563.9,456.9L562.5,455.3ZM615.0,443.1L616.9,442.9L620.4,439.4L622.1,435.1L621.3,434.9L619.3,438.5L616.4,441.4ZM389.0,451.5L392.5,449.5L396.0,449.8L397.7,452.0L394.8,452.0L391.3,451.7ZM393.9,459.3L395.6,459.3L396.5,454.5L397.1,453.2L394.8,453.7L393.6,455.3ZM398.3,452.9L401.7,453.2L402.9,455.3L400.9,457.4L400.0,457.7L398.8,455.3ZM399.1,459.8L404.0,458.2L404.0,457.7L400.0,459.0ZM403.1,457.3L407.3,456.9L406.9,455.8L404.0,456.5ZM381.0,438.9L382.7,438.9L384.1,444.2L383.3,445.3L381.5,442.3ZM360.2,423.4L363.6,423.4L367.1,419.2L368.8,419.2L366.0,422.2L362.5,423.9ZM353.3,413.2L356.7,413.2L359.0,409.0L355.6,407.5L352.1,410.4ZM530.4,425.7L532.7,425.0L532.7,422.9L531.0,421.7L529.8,423.4ZM533.3,409.0L536.7,415.9L539.1,415.1L541.4,413.2L542.5,409.0L546.0,404.5L546.0,391.0L533.3,391.0ZM531.9,513.4L533.3,512.3L534.7,513.1L533.9,515.5L532.1,515.7Z" fill="#2e2e2e"/><g fill="#2e2e2e" fill-opacity=".9"><ellipse cx="359.4" cy="429.3" rx="0.78" ry="0.91"/><ellipse cx="367.3" cy="424.6" rx="0.59" ry="0.49"/><ellipse cx="348.9" cy="423.1" rx="0.44" ry="0.50"/><ellipse cx="363.2" cy="413.6" rx="0.53" ry="0.54"/><ellipse cx="370.7" cy="410.4" rx="0.95" ry="0.85"/><ellipse cx="383.5" cy="431.4" rx="1.08" ry="1.05"/><ellipse cx="352.8" cy="429.9" rx="0.97" ry="0.67"/><ellipse cx="354.2" cy="419.7" rx="0.99" ry="0.90"/><ellipse cx="367.7" cy="431.1" rx="0.47" ry="0.49"/><ellipse cx="372.6" cy="423.2" rx="0.85" ry="0.67"/><ellipse cx="364.2" cy="426.1" rx="1.37" ry="1.01"/><ellipse cx="356.5" cy="419.8" rx="1.23" ry="0.82"/><ellipse cx="374.4" cy="426.3" rx="1.02" ry="1.14"/><ellipse cx="362.9" cy="415.4" rx="0.66" ry="0.56"/><ellipse cx="348.9" cy="417.6" rx="1.24" ry="0.99"/><ellipse cx="379.8" cy="425.8" rx="1.19" ry="0.94"/><ellipse cx="368.9" cy="422.6" rx="1.61" ry="1.04"/><ellipse cx="365.0" cy="417.7" rx="0.67" ry="0.49"/><ellipse cx="371.4" cy="409.2" rx="1.05" ry="1.03"/><ellipse cx="361.7" cy="417.6" rx="0.54" ry="0.47"/><ellipse cx="353.7" cy="430.0" rx="0.69" ry="0.49"/><ellipse cx="352.3" cy="427.2" rx="1.08" ry="0.72"/><ellipse cx="350.5" cy="422.7" rx="1.26" ry="0.83"/><ellipse cx="377.7" cy="412.6" rx="0.73" ry="0.64"/><ellipse cx="360.7" cy="412.1" rx="1.03" ry="1.12"/><ellipse cx="354.0" cy="427.5" rx="0.73" ry="0.61"/><ellipse cx="369.2" cy="426.9" rx="0.51" ry="0.45"/><ellipse cx="361.1" cy="420.0" rx="1.51" ry="1.12"/><ellipse cx="366.5" cy="418.8" rx="0.78" ry="0.92"/><ellipse cx="380.7" cy="414.8" rx="1.53" ry="1.06"/><ellipse cx="362.0" cy="423.9" rx="0.68" ry="0.52"/><ellipse cx="349.8" cy="431.0" rx="0.55" ry="0.60"/><ellipse cx="360.0" cy="431.3" rx="0.41" ry="0.45"/><ellipse cx="351.2" cy="424.7" rx="0.70" ry="0.47"/><ellipse cx="370.2" cy="429.3" rx="0.68" ry="0.63"/><ellipse cx="360.9" cy="429.8" rx="1.67" ry="1.04"/><ellipse cx="364.7" cy="421.9" rx="0.45" ry="0.51"/><ellipse cx="360.1" cy="426.8" rx="0.96" ry="1.03"/><ellipse cx="348.3" cy="410.3" rx="0.75" ry="0.82"/><ellipse cx="367.5" cy="431.8" rx="1.30" ry="0.82"/><ellipse cx="379.4" cy="416.9" rx="0.69" ry="0.63"/><ellipse cx="353.7" cy="415.0" rx="1.17" ry="0.82"/><ellipse cx="359.7" cy="427.7" rx="1.62" ry="1.02"/><ellipse cx="379.0" cy="414.1" rx="1.42" ry="1.02"/><ellipse cx="355.9" cy="421.2" rx="0.58" ry="0.70"/><ellipse cx="348.5" cy="426.5" rx="0.85" ry="0.63"/><ellipse cx="382.8" cy="422.8" rx="1.76" ry="1.11"/><ellipse cx="382.8" cy="424.6" rx="0.59" ry="0.60"/><ellipse cx="354.8" cy="428.1" rx="1.35" ry="0.89"/><ellipse cx="378.5" cy="422.0" rx="1.31" ry="0.91"/><ellipse cx="350.6" cy="417.8" rx="1.55" ry="1.09"/><ellipse cx="375.2" cy="422.1" rx="0.82" ry="0.57"/><ellipse cx="359.8" cy="414.3" rx="1.26" ry="1.13"/><ellipse cx="362.3" cy="410.4" rx="0.90" ry="0.96"/><ellipse cx="352.2" cy="429.3" rx="1.57" ry="1.08"/><ellipse cx="352.9" cy="413.6" rx="1.51" ry="1.14"/><ellipse cx="360.4" cy="420.4" rx="0.44" ry="0.54"/><ellipse cx="383.3" cy="418.0" rx="1.27" ry="0.82"/><ellipse cx="363.5" cy="412.4" rx="1.00" ry="1.03"/><ellipse cx="356.8" cy="426.2" rx="0.78" ry="0.62"/><ellipse cx="357.1" cy="423.4" rx="0.83" ry="0.54"/><ellipse cx="360.6" cy="422.5" rx="1.31" ry="0.86"/><ellipse cx="363.0" cy="411.2" rx="0.98" ry="0.80"/><ellipse cx="366.8" cy="432.0" rx="0.72" ry="0.76"/><ellipse cx="347.6" cy="414.3" rx="0.67" ry="0.57"/><ellipse cx="374.3" cy="420.3" rx="0.82" ry="0.68"/><ellipse cx="368.0" cy="414.7" rx="0.65" ry="0.52"/><ellipse cx="356.7" cy="426.6" rx="1.19" ry="0.99"/><ellipse cx="368.2" cy="415.3" rx="1.26" ry="1.09"/><ellipse cx="370.1" cy="421.4" rx="1.09" ry="0.81"/><ellipse cx="378.5" cy="437.9" rx="0.99" ry="0.64"/><ellipse cx="385.3" cy="432.3" rx="0.88" ry="0.87"/><ellipse cx="381.4" cy="431.2" rx="0.75" ry="0.82"/><ellipse cx="369.3" cy="439.4" rx="0.43" ry="0.44"/><ellipse cx="368.0" cy="435.8" rx="1.20" ry="0.79"/><ellipse cx="370.2" cy="435.0" rx="0.67" ry="0.73"/><ellipse cx="390.4" cy="430.8" rx="0.80" ry="0.51"/><ellipse cx="377.0" cy="438.7" rx="1.31" ry="0.89"/><ellipse cx="370.4" cy="439.5" rx="0.70" ry="0.66"/><ellipse cx="371.4" cy="441.3" rx="0.62" ry="0.76"/><ellipse cx="381.3" cy="439.4" rx="0.44" ry="0.41"/><ellipse cx="383.2" cy="438.3" rx="0.69" ry="0.43"/><ellipse cx="387.8" cy="430.7" rx="0.46" ry="0.45"/><ellipse cx="367.0" cy="434.0" rx="0.48" ry="0.54"/><ellipse cx="377.6" cy="431.7" rx="0.82" ry="0.81"/><ellipse cx="370.1" cy="431.6" rx="0.93" ry="0.69"/><ellipse cx="368.4" cy="445.1" rx="0.85" ry="0.74"/><ellipse cx="368.0" cy="431.3" rx="1.03" ry="0.72"/><ellipse cx="368.3" cy="432.7" rx="0.65" ry="0.43"/><ellipse cx="378.5" cy="441.0" rx="1.04" ry="0.68"/><ellipse cx="373.4" cy="444.1" rx="0.66" ry="0.66"/><ellipse cx="369.0" cy="443.6" rx="0.41" ry="0.43"/><ellipse cx="374.6" cy="441.5" rx="0.80" ry="0.78"/><ellipse cx="379.8" cy="443.4" rx="0.47" ry="0.57"/><ellipse cx="372.9" cy="445.8" rx="0.95" ry="0.77"/><ellipse cx="371.2" cy="438.9" rx="0.77" ry="0.87"/><ellipse cx="419.9" cy="437.8" rx="0.95" ry="0.65"/><ellipse cx="411.0" cy="436.3" rx="1.18" ry="0.74"/><ellipse cx="410.0" cy="429.5" rx="0.99" ry="0.75"/><ellipse cx="411.3" cy="439.5" rx="0.39" ry="0.43"/><ellipse cx="404.3" cy="431.5" rx="0.49" ry="0.53"/><ellipse cx="404.6" cy="429.3" rx="1.12" ry="0.84"/><ellipse cx="408.7" cy="441.5" rx="0.64" ry="0.55"/><ellipse cx="406.2" cy="437.6" rx="0.83" ry="0.53"/><ellipse cx="423.1" cy="435.5" rx="0.82" ry="0.52"/><ellipse cx="409.3" cy="439.3" rx="0.44" ry="0.40"/><ellipse cx="412.7" cy="436.4" rx="0.60" ry="0.50"/><ellipse cx="403.0" cy="441.1" rx="0.50" ry="0.44"/><ellipse cx="403.7" cy="445.6" rx="0.54" ry="0.55"/><ellipse cx="415.0" cy="435.9" rx="1.03" ry="0.78"/><ellipse cx="417.8" cy="428.5" rx="0.63" ry="0.59"/><ellipse cx="423.3" cy="443.2" rx="1.00" ry="0.76"/><ellipse cx="403.8" cy="429.4" rx="1.10" ry="0.85"/><ellipse cx="418.1" cy="429.9" rx="0.57" ry="0.47"/><ellipse cx="413.4" cy="429.4" rx="1.17" ry="0.80"/><ellipse cx="415.0" cy="428.2" rx="1.00" ry="0.74"/><ellipse cx="407.7" cy="445.4" rx="0.51" ry="0.47"/><ellipse cx="405.1" cy="429.4" rx="0.88" ry="0.68"/><ellipse cx="415.9" cy="432.8" rx="0.52" ry="0.64"/><ellipse cx="419.4" cy="431.3" rx="0.80" ry="0.65"/><ellipse cx="416.6" cy="444.8" rx="0.77" ry="0.77"/><ellipse cx="404.4" cy="441.1" rx="0.74" ry="0.76"/><ellipse cx="406.9" cy="409.3" rx="1.05" ry="0.95"/><ellipse cx="399.4" cy="413.0" rx="1.47" ry="1.14"/><ellipse cx="404.1" cy="420.1" rx="0.71" ry="0.70"/><ellipse cx="407.0" cy="417.5" rx="0.81" ry="1.00"/><ellipse cx="387.3" cy="417.9" rx="1.45" ry="1.07"/><ellipse cx="405.1" cy="417.7" rx="1.13" ry="0.96"/><ellipse cx="399.0" cy="419.6" rx="1.18" ry="1.23"/><ellipse cx="413.8" cy="409.8" rx="0.71" ry="0.61"/><ellipse cx="409.2" cy="409.4" rx="0.93" ry="0.91"/><ellipse cx="391.6" cy="409.7" rx="0.95" ry="0.75"/><ellipse cx="389.7" cy="414.9" rx="1.15" ry="1.27"/><ellipse cx="409.2" cy="415.1" rx="1.66" ry="1.22"/><ellipse cx="392.2" cy="410.3" rx="0.77" ry="0.94"/><ellipse cx="385.7" cy="415.3" rx="0.95" ry="0.92"/><ellipse cx="389.6" cy="417.1" rx="1.21" ry="0.82"/><ellipse cx="385.6" cy="412.2" rx="1.06" ry="1.19"/><ellipse cx="412.3" cy="412.6" rx="1.27" ry="1.23"/><ellipse cx="396.3" cy="416.5" rx="1.65" ry="1.30"/><ellipse cx="523.3" cy="419.6" rx="0.43" ry="0.51"/><ellipse cx="519.7" cy="413.2" rx="0.80" ry="0.51"/><ellipse cx="521.7" cy="422.0" rx="0.58" ry="0.60"/><ellipse cx="523.5" cy="411.2" rx="1.09" ry="0.75"/><ellipse cx="527.0" cy="411.9" rx="0.96" ry="0.78"/><ellipse cx="528.2" cy="425.0" rx="0.80" ry="0.69"/><ellipse cx="528.7" cy="416.2" rx="0.43" ry="0.51"/><ellipse cx="531.1" cy="423.9" rx="0.63" ry="0.59"/><ellipse cx="522.4" cy="414.7" rx="0.80" ry="0.79"/><ellipse cx="527.4" cy="421.4" rx="0.69" ry="0.62"/><ellipse cx="520.6" cy="423.5" rx="0.74" ry="0.48"/><ellipse cx="525.2" cy="422.6" rx="1.22" ry="0.76"/><ellipse cx="524.5" cy="423.8" rx="0.42" ry="0.48"/><ellipse cx="523.0" cy="424.5" rx="0.50" ry="0.50"/><ellipse cx="589.0" cy="411.7" rx="0.78" ry="0.69"/><ellipse cx="572.8" cy="419.8" rx="0.56" ry="0.52"/><ellipse cx="536.3" cy="424.9" rx="0.71" ry="0.79"/><ellipse cx="582.1" cy="417.6" rx="0.72" ry="0.74"/><ellipse cx="558.0" cy="425.5" rx="0.61" ry="0.53"/><ellipse cx="628.9" cy="412.6" rx="0.61" ry="0.74"/><ellipse cx="533.2" cy="415.8" rx="0.89" ry="0.75"/><ellipse cx="590.8" cy="430.2" rx="0.81" ry="0.53"/><ellipse cx="615.6" cy="412.4" rx="0.79" ry="0.79"/><ellipse cx="541.1" cy="427.3" rx="0.79" ry="0.59"/><ellipse cx="627.6" cy="415.5" rx="0.91" ry="0.64"/><ellipse cx="577.3" cy="419.3" rx="0.52" ry="0.37"/><ellipse cx="554.0" cy="410.9" rx="0.67" ry="0.64"/><ellipse cx="543.1" cy="425.4" rx="0.86" ry="0.64"/><ellipse cx="541.5" cy="428.9" rx="0.74" ry="0.59"/><ellipse cx="570.1" cy="426.0" rx="0.50" ry="0.62"/><ellipse cx="561.1" cy="421.2" rx="1.03" ry="0.78"/><ellipse cx="621.6" cy="420.9" rx="0.45" ry="0.46"/><ellipse cx="629.6" cy="415.9" rx="0.40" ry="0.49"/><ellipse cx="581.6" cy="416.6" rx="0.54" ry="0.54"/><ellipse cx="599.1" cy="410.8" rx="0.37" ry="0.45"/><ellipse cx="564.9" cy="422.0" rx="0.63" ry="0.66"/><ellipse cx="612.6" cy="415.1" rx="0.56" ry="0.58"/><ellipse cx="630.5" cy="424.2" rx="0.71" ry="0.72"/><ellipse cx="552.8" cy="414.6" rx="0.75" ry="0.48"/><ellipse cx="581.3" cy="426.7" rx="0.51" ry="0.45"/><ellipse cx="598.9" cy="410.2" rx="0.46" ry="0.42"/><ellipse cx="551.9" cy="409.6" rx="0.35" ry="0.41"/><ellipse cx="536.1" cy="422.6" rx="1.14" ry="0.75"/><ellipse cx="605.9" cy="409.0" rx="0.82" ry="0.77"/><ellipse cx="549.1" cy="410.5" rx="0.57" ry="0.69"/><ellipse cx="598.8" cy="422.9" rx="0.55" ry="0.52"/><ellipse cx="547.4" cy="430.2" rx="0.51" ry="0.48"/><ellipse cx="629.1" cy="427.9" rx="0.76" ry="0.78"/><ellipse cx="566.9" cy="413.2" rx="0.82" ry="0.72"/><ellipse cx="534.9" cy="420.9" rx="0.80" ry="0.52"/><ellipse cx="549.9" cy="423.2" rx="0.62" ry="0.75"/><ellipse cx="572.5" cy="413.5" rx="0.58" ry="0.70"/><ellipse cx="533.4" cy="429.0" rx="0.77" ry="0.76"/><ellipse cx="607.4" cy="411.4" rx="0.51" ry="0.50"/></g><text x="380.3" y="436.3" text-anchor="middle" font-family="Liberation Sans, sans-serif" font-size="8.0" fill="#7c7c7c" letter-spacing="0" stroke="#111" stroke-width="1.6" stroke-opacity=".55" paint-order="stroke">AMÉRICA</text><text x="380.3" y="445.8" text-anchor="middle" font-family="Liberation Sans, sans-serif" font-size="8.0" fill="#7c7c7c" letter-spacing="0" stroke="#111" stroke-width="1.6" stroke-opacity=".55" paint-order="stroke">DO NORTE</text><text x="523.8" y="446" text-anchor="middle" font-family="Liberation Sans, sans-serif" font-size="7.7" fill="#7c7c7c" letter-spacing="0" stroke="#111" stroke-width="1.6" stroke-opacity=".55" paint-order="stroke">EUROPA</text><text x="615" y="438" text-anchor="middle" font-family="Liberation Sans, sans-serif" font-size="7.8" fill="#7c7c7c" letter-spacing="0" stroke="#111" stroke-width="1.6" stroke-opacity=".55" paint-order="stroke">ÁSIA</text><text x="524.8" y="507" text-anchor="middle" font-family="Liberation Sans, sans-serif" font-size="7.7" fill="#7c7c7c" letter-spacing="0" stroke="#111" stroke-width="1.6" stroke-opacity=".55" paint-order="stroke">ÁFRICA</text><text x="437.3" y="528" text-anchor="middle" font-family="Liberation Sans, sans-serif" font-size="8.0" fill="#7c7c7c" letter-spacing="0" stroke="#111" stroke-width="1.6" stroke-opacity=".55" paint-order="stroke">AMÉRICA</text><text x="437.3" y="537.6" text-anchor="middle" font-family="Liberation Sans, sans-serif" font-size="8.0" fill="#7c7c7c" letter-spacing="0" stroke="#111" stroke-width="1.6" stroke-opacity=".55" paint-order="stroke">DO SUL</text><text x="643.3" y="539.5" text-anchor="middle" font-family="Liberation Sans, sans-serif" font-size="7.8" fill="#7c7c7c" letter-spacing="0" stroke="#111" stroke-width="1.6" stroke-opacity=".55" paint-order="stroke">AUS</text><text x="447.5" y="473" text-anchor="middle" font-family="Liberation Sans, sans-serif" font-size="7.8" font-style="italic" fill="#5e5e5e" letter-spacing="0.6" stroke="#111" stroke-width="1.6" stroke-opacity=".55" paint-order="stroke">Oceano</text><text x="447.5" y="482" text-anchor="middle" font-family="Liberation Sans, sans-serif" font-size="7.8" font-style="italic" fill="#5e5e5e" letter-spacing="0.6" stroke="#111" stroke-width="1.6" stroke-opacity=".55" paint-order="stroke">Atlântico</text><text x="580" y="566" text-anchor="middle" font-family="Liberation Sans, sans-serif" font-size="7.8" font-style="italic" fill="#5e5e5e" letter-spacing="0.7" stroke="#111" stroke-width="1.6" stroke-opacity=".55" paint-order="stroke">Oceano Índico</text><circle cx="384.7" cy="419.1" r="5.7" fill="#e8690a" fill-opacity=".8"/><circle cx="382.1" cy="462.7" r="5.7" fill="#e8690a" fill-opacity=".8"/><circle cx="378.4" cy="483.8" r="5.7" fill="#e8690a" fill-opacity=".8"/><circle cx="435" cy="523.7" r="5.7" fill="#e8690a" fill-opacity=".8"/><circle cx="414.3" cy="551" r="5.7" fill="#e8690a" fill-opacity=".8"/><circle cx="421.3" cy="554.8" r="5.7" fill="#e8690a" fill-opacity=".8"/><circle cx="493" cy="438" r="5.7" fill="#e8690a" fill-opacity=".8"/><circle cx="501.8" cy="442" r="5.7" fill="#e8690a" fill-opacity=".8"/><circle cx="499.3" cy="451.3" r="5.7" fill="#e8690a" fill-opacity=".8"/><circle cx="491.9" cy="461.3" r="5.7" fill="#e8690a" fill-opacity=".8"/><circle cx="510" cy="456.5" r="5.7" fill="#e8690a" fill-opacity=".8"/><circle cx="506.6" cy="444.3" r="5.7" fill="#e8690a" fill-opacity=".8"/><circle cx="547.3" cy="483.8" r="5.7" fill="#e8690a" fill-opacity=".8"/><circle cx="587.6" cy="485.6" r="5.7" fill="#e8690a" fill-opacity=".8"/><circle cx="609.7" cy="421.7" r="5.7" fill="#e8690a" fill-opacity=".8"/><circle cx="615.3" cy="467.2" r="5.7" fill="#e8690a" fill-opacity=".8"/><circle cx="643.5" cy="467.2" r="5.7" fill="#e8690a" fill-opacity=".8"/><circle cx="653.2" cy="467.2" r="5.7" fill="#e8690a" fill-opacity=".8"/><rect x="345.4" y="549.4" width="3.7" height="3.7" fill="#f25022"/><rect x="349.59999999999997" y="549.4" width="3.7" height="3.7" fill="#7fba00"/><rect x="345.4" y="553.6" width="3.7" height="3.7" fill="#00a4ef"/><rect x="349.59999999999997" y="553.6" width="3.7" height="3.7" fill="#ffb900"/><text x="355.6" y="556.5" font-family="Liberation Sans, sans-serif" font-size="6.9" fill="#f4f4f4" textLength="42" lengthAdjust="spacingAndGlyphs">Microsoft Bing</text><text x="511.5" y="559.3" font-family="Liberation Sans, sans-serif" font-size="7.6" fill="#f4f4f4" stroke="#000" stroke-width="1.5" paint-order="stroke" textLength="94" lengthAdjust="spacingAndGlyphs">© 2024 Microsoft Corporation</text><text x="612.5" y="559.3" font-family="Liberation Sans, sans-serif" font-size="7.6" fill="#a9c4f5" text-decoration="underline" stroke="#000" stroke-width="1.2" paint-order="stroke" textLength="18" lengthAdjust="spacingAndGlyphs">Terms</text></svg>
<svg class="b" style="left:670px;top:400px" width="344" height="165" viewBox="670 400 344 165"><path d="M843.70,426.30A60.6,60.6 0 0 1 861.45,544.84L854.24,521.32A36,36 0 0 0 843.70,450.90Z" fill="#ff7a00"/><path d="M861.45,544.84A60.6,60.6 0 0 1 786.03,468.28L809.44,475.84A36,36 0 0 0 854.24,521.32Z" fill="#e044a6"/><path d="M786.03,468.28A60.6,60.6 0 0 1 825.01,429.25L832.60,452.65A36,36 0 0 0 809.44,475.84Z" fill="#ffffff"/><path d="M825.01,429.25A60.6,60.6 0 0 1 843.70,426.30L843.70,450.90A36,36 0 0 0 832.60,452.65Z" fill="#6b1e57"/><polyline points="828.7,420.3 839.2,420.3 839.2,425.5" fill="none" stroke="#8c8d93" stroke-width="1"/><polyline points="785.3,438.3 795.8,438.3 800.3,443.4" fill="none" stroke="#8c8d93" stroke-width="1"/><polyline points="786.2,534.2 795.2,534.2 800.3,530.3" fill="none" stroke="#8c8d93" stroke-width="1"/><polyline points="905.1,478 920,477" fill="none" stroke="#8c8d93" stroke-width="1"/></svg>
<span class="t" style="left:749.00px;top:415.00px;font-size:10px;font-weight:400;color:#f0f0f0;line-height:11.490px;transform:scaleX(0.9220);">Trem 4 Mi (4,99%)</span>
<span class="t" style="left:758.50px;top:428.00px;font-size:10px;font-weight:400;color:#f0f0f0;line-height:11.490px;transform:scaleX(0.9378);">Barco</span>
<span class="t" style="left:719.50px;top:441.00px;font-size:10px;font-weight:400;color:#f0f0f0;line-height:11.490px;transform:scaleX(0.9467);">11 Mi (15,04%)</span>
<span class="t" style="left:698.00px;top:530.00px;font-size:10px;font-weight:400;color:#f0f0f0;line-height:11.490px;transform:scaleX(0.9402);">Avião 26 Mi (34,7%)</span>
<span class="t" style="left:924.00px;top:466.00px;font-size:10px;font-weight:400;color:#f0f0f0;line-height:11.490px;transform:scaleX(0.9542);">Caminhão</span>
<span class="t" style="left:924.00px;top:479.00px;font-size:10px;font-weight:400;color:#f0f0f0;line-height:11.490px;transform:scaleX(0.9363);">34 Mi (45,27%)</span>
<span class="t" style="left:907.60px;top:554.00px;font-size:14.2px;font-weight:400;color:rgba(150,150,156,.72);line-height:16.316px;transform:scaleX(0.9618);">Ativar o Windows</span>
</body></html>
